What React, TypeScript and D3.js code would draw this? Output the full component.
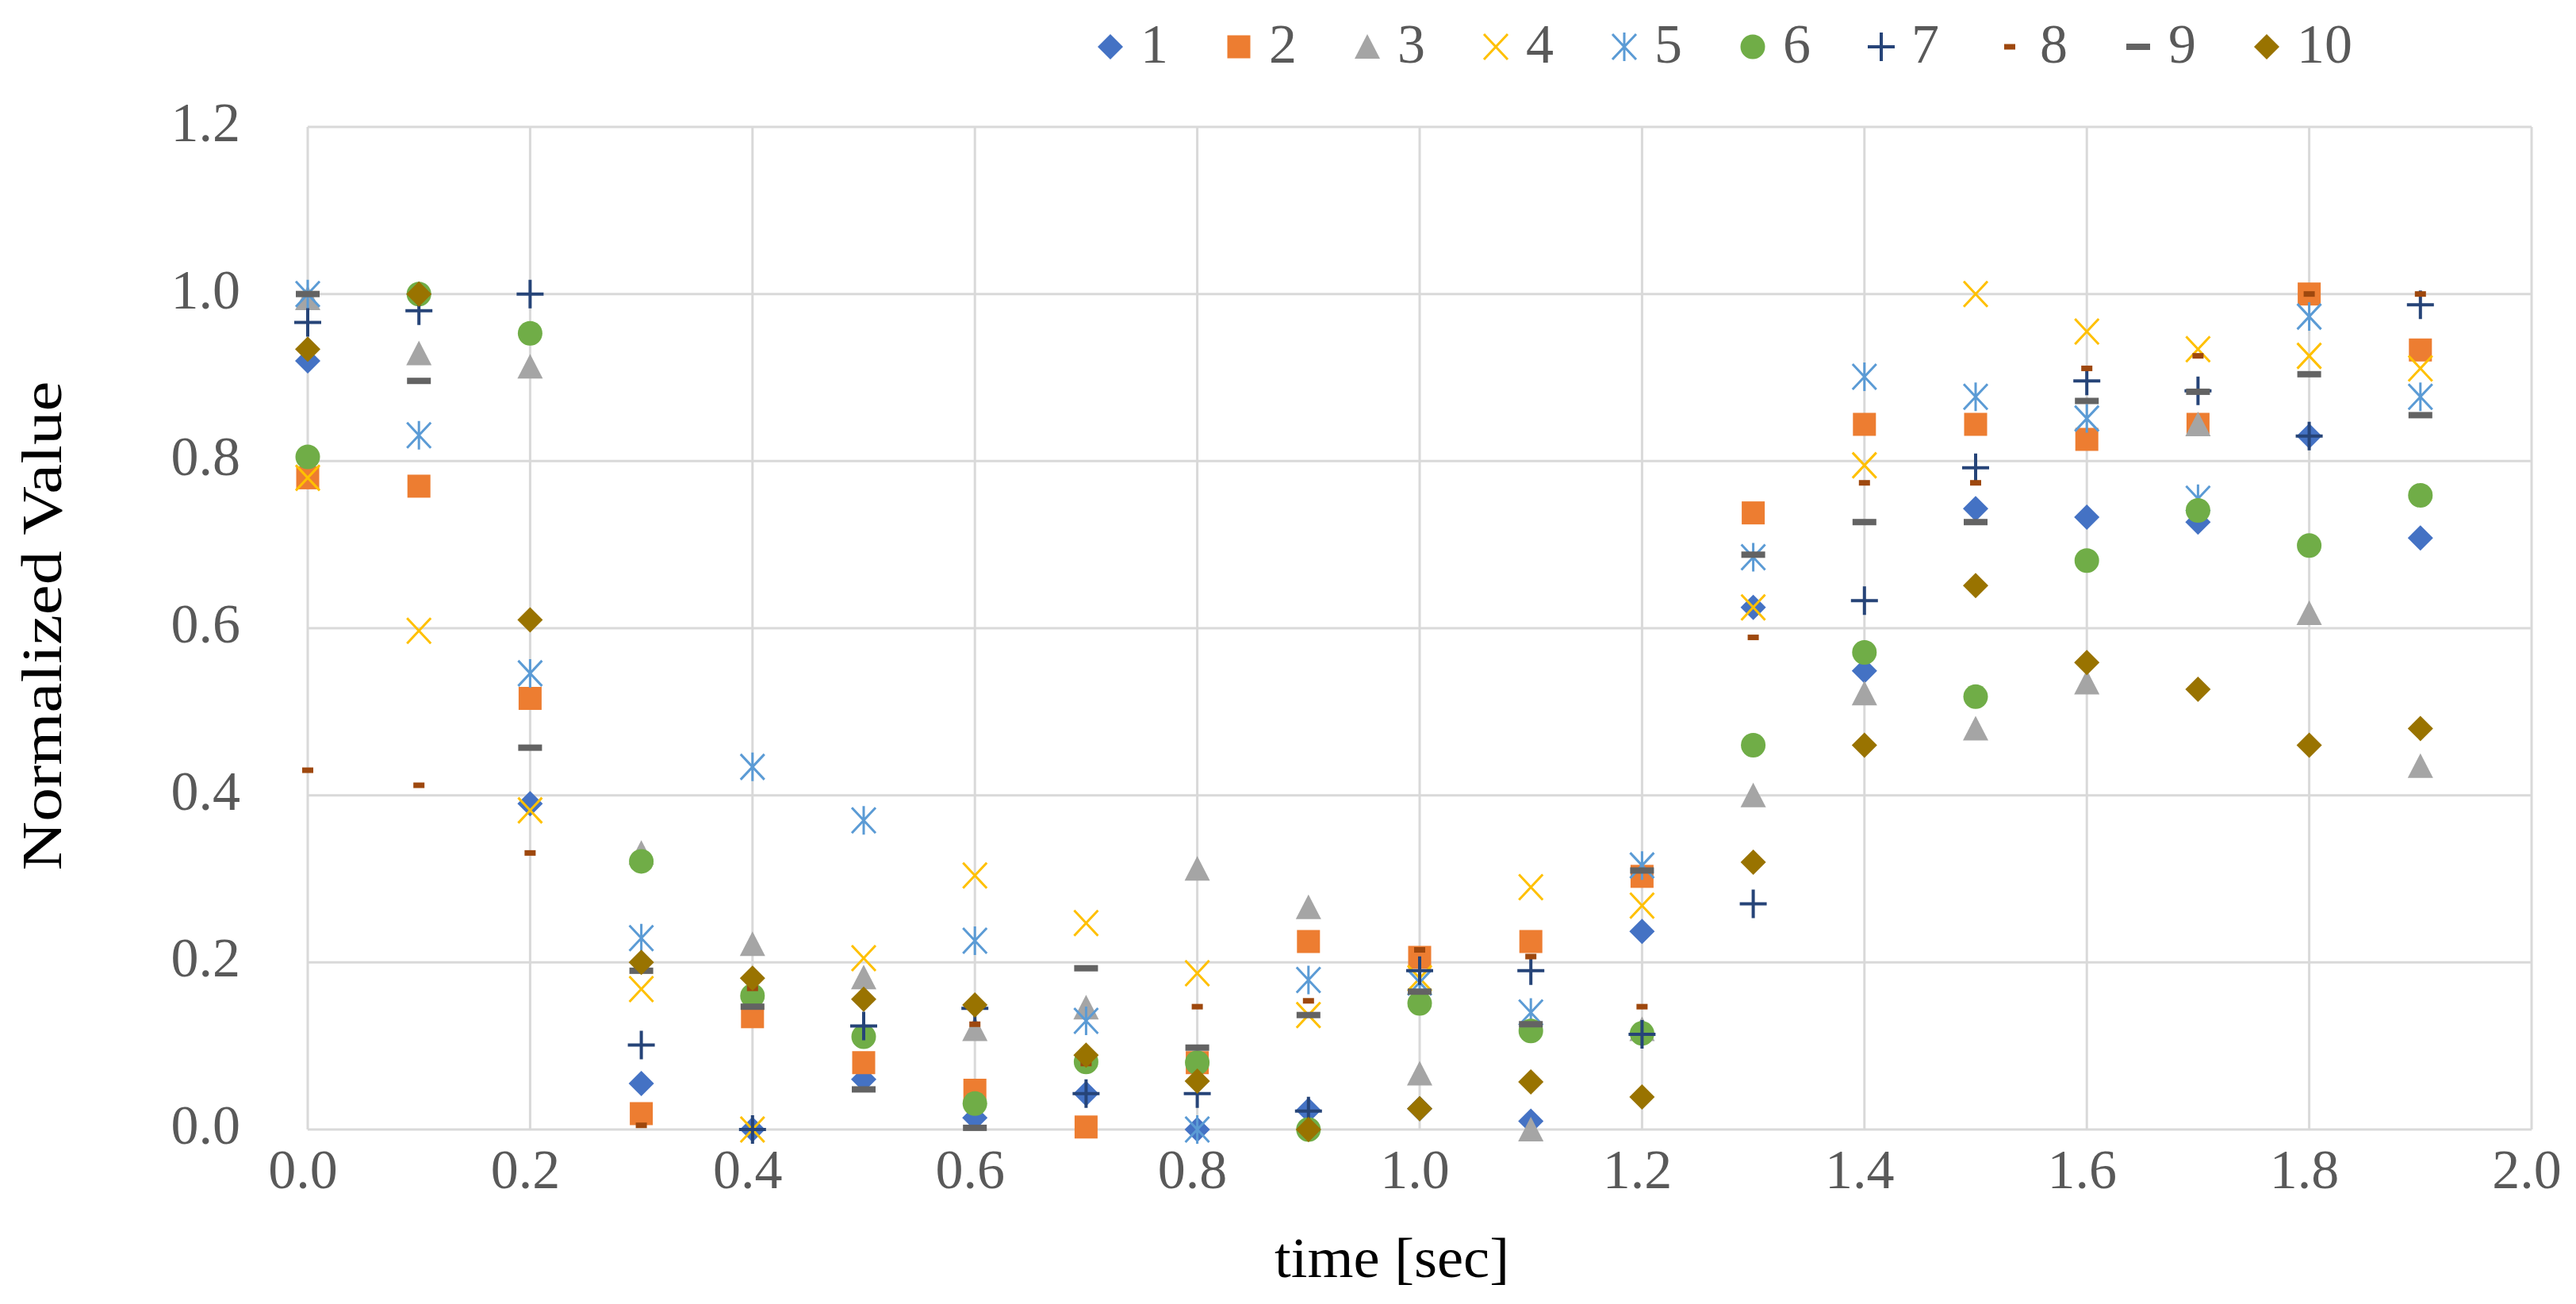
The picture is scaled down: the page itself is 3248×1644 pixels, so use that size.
// @ts-nocheck
import * as d3 from "d3";
import React from "react";

// time axis (sec)
const times = [0.0, 0.1, 0.2, 0.3, 0.4, 0.5, 0.6, 0.7, 0.8, 0.9, 1.0, 1.1, 1.2, 1.3, 1.4, 1.5, 1.6, 1.7, 1.8, 1.9];

// normalized values per series
const s1 = [0.92, 1.0, 0.39, 0.055, 0.0, 0.06, 0.014, 0.043, 0.0, 0.023, 0.025, 0.01, 0.237, 0.625, 0.549, 0.743, 0.733, 0.727, 0.83, 0.708];
const s2 = [0.78, 0.77, 0.516, 0.019, 0.135, 0.08, 0.047, 0.003, 0.08, 0.225, 0.206, 0.225, 0.303, 0.738, 0.844, 0.844, 0.826, 0.844, 1.0, 0.933];
const s3 = [0.995, 0.929, 0.913, 0.331, 0.222, 0.182, 0.12, 0.146, 0.312, 0.266, 0.067, 0.0, 0.12, 0.4, 0.522, 0.48, 0.535, 0.844, 0.618, 0.435];
const s4 = [0.78, 0.597, 0.382, 0.168, 0.0, 0.205, 0.304, 0.247, 0.187, 0.137, 0.181, 0.29, 0.268, 0.625, 0.795, 1.0, 0.955, 0.934, 0.926, 0.911];
const s5 = [1.0, 0.831, 0.546, 0.229, 0.434, 0.37, 0.226, 0.13, 0.0, 0.179, 0.176, 0.14, 0.316, 0.685, 0.901, 0.877, 0.851, 0.755, 0.973, 0.877];
const s6 = [0.805, 1.0, 0.953, 0.321, 0.16, 0.111, 0.031, 0.081, 0.08, 0.0, 0.151, 0.118, 0.115, 0.46, 0.571, 0.518, 0.681, 0.741, 0.699, 0.759];
const s7 = [0.966, 0.98, 1.0, 0.101, 0.0, 0.124, 0.145, 0.043, 0.043, 0.022, 0.19, 0.19, 0.114, 0.27, 0.633, 0.792, 0.896, 0.884, 0.83, 0.987];
const s8 = [0.43, 0.412, 0.331, 0.005, 0.169, 0.155, 0.126, 0.079, 0.147, 0.154, 0.215, 0.207, 0.147, 0.589, 0.774, 0.774, 0.911, 0.926, 1.0, 1.0];
const s9 = [1.0, 0.896, 0.457, 0.19, 0.147, 0.048, 0.002, 0.193, 0.098, 0.137, 0.165, 0.126, 0.31, 0.688, 0.727, 0.727, 0.872, 0.883, 0.904, 0.855];
const s10 = [0.934, 1.0, 0.61, 0.2, 0.181, 0.156, 0.149, 0.089, 0.058, 0.0, 0.025, 0.057, 0.039, 0.32, 0.46, 0.651, 0.559, 0.527, 0.46, 0.48];

const seriesNames = ["1", "2", "3", "4", "5", "6", "7", "8", "9", "10"];
const seriesValues = [s1, s2, s3, s4, s5, s6, s7, s8, s9, s10];

const xTicks = [0, 0.2, 0.4, 0.6, 0.8, 1.0, 1.2, 1.4, 1.6, 1.8, 2.0];
const yTicks = [0, 0.2, 0.4, 0.6, 0.8, 1.0, 1.2];

const xTitle = "time [sec]";
const yTitle = "Normalized Value";

// marker look for each series (Excel-like)
const markerStyles = [
  { shape: "diamond", color: "#4472C4" },
  { shape: "square", color: "#ED7D31" },
  { shape: "triangle", color: "#A5A5A5" },
  { shape: "x", color: "#FFC000" },
  { shape: "star", color: "#5B9BD5" },
  { shape: "circle", color: "#70AD47" },
  { shape: "plus", color: "#264478" },
  { shape: "shortDash", color: "#9E480E" },
  { shape: "longDash", color: "#636363" },
  { shape: "diamond", color: "#997300" },
];

const W = 3248;
const H = 1644;
const marginLeft = 388;
const marginRight = 56;
const marginTop = 160;
const marginBottom = 220;
const font = "'Liberation Serif', 'Times New Roman', serif";

function Marker({ shape, color }) {
  switch (shape) {
    case "diamond":
      return <path d="M0,-16L16,0L0,16L-16,0Z" fill={color} />;
    case "square":
      return <rect x={-14.5} y={-14.5} width={29} height={29} fill={color} />;
    case "triangle":
      return <path d="M0,-16L16,15L-16,15Z" fill={color} />;
    case "x":
      return <path d="M-15,-16L15,16M-15,16L15,-16" stroke={color} strokeWidth={3} fill="none" />;
    case "star":
      return <path d="M-15,-16L15,16M-15,16L15,-16M0,-18L0,18" stroke={color} strokeWidth={3} fill="none" />;
    case "circle":
      return <circle r={15.5} fill={color} />;
    case "plus":
      return <path d="M-17,0H17M0,-18V18" stroke={color} strokeWidth={4} fill="none" />;
    case "shortDash":
      return <rect x={-7} y={-3.5} width={14} height={7} fill={color} />;
    case "longDash":
      return <rect x={-15} y={-4} width={30} height={8} fill={color} />;
    default:
      return null;
  }
}

export default function App() {
  const x = d3.scaleLinear([0, 2], [marginLeft, W - marginRight]);
  const y = d3.scaleLinear([0, 1.2], [H - marginBottom, marginTop]);
  const fmt = d3.format(".1f");

  const legendX0 = 1400;
  const legendStep = 162;
  const legendY = 59;

  return (
    <svg
      width={W}
      height={H}
      style={{ position: "absolute", left: 0, top: 0, background: "#fff" }}
      fontFamily={font}
    >
      <rect width={W} height={H} fill="#fff" />

      {/* grid */}
      <g stroke="#D9D9D9" strokeWidth={3}>
        {xTicks.map((t) => (
          <line key={"gx" + t} x1={x(t)} x2={x(t)} y1={y(1.2)} y2={y(0)} />
        ))}
        {yTicks.map((t) => (
          <line key={"gy" + t} x1={x(0)} x2={x(2)} y1={y(t)} y2={y(t)} />
        ))}
      </g>

      {/* tick labels */}
      <g fill="#595959" fontSize={70}>
        {yTicks.map((t) => (
          <text key={"ty" + t} x={303} y={y(t) + 18} textAnchor="end">
            {fmt(t)}
          </text>
        ))}
        {xTicks.map((t) => (
          <text key={"tx" + t} x={x(t) - 6} y={H - marginBottom + 74} textAnchor="middle">
            {fmt(t)}
          </text>
        ))}
      </g>

      {/* axis titles */}
      <text
        x={1755}
        y={1610}
        textAnchor="middle"
        fontSize={72}
        fill="#000"
        textLength={296}
        lengthAdjust="spacingAndGlyphs"
      >
        {xTitle}
      </text>
      <text
        transform={`translate(77,${(y(0) + y(1.2)) / 2 - 3}) rotate(-90)`}
        textAnchor="middle"
        fontSize={72}
        fill="#000"
        textLength={617}
        lengthAdjust="spacingAndGlyphs"
      >
        {yTitle}
      </text>

      {/* series markers */}
      {seriesValues.map((vals, si) => (
        <g key={"s" + si}>
          {vals.map((v, i) => (
            <g key={i} transform={`translate(${x(times[i])},${y(v)})`}>
              <Marker shape={markerStyles[si].shape} color={markerStyles[si].color} />
            </g>
          ))}
        </g>
      ))}

      {/* legend */}
      <g fontSize={70} fill="#595959">
        {seriesNames.map((name, i) => (
          <g key={"l" + name} transform={`translate(${legendX0 + i * legendStep},${legendY})`}>
            <Marker shape={markerStyles[i].shape} color={markerStyles[i].color} />
            <text x={38} y={20}>
              {name}
            </text>
          </g>
        ))}
      </g>
    </svg>
  );
}
